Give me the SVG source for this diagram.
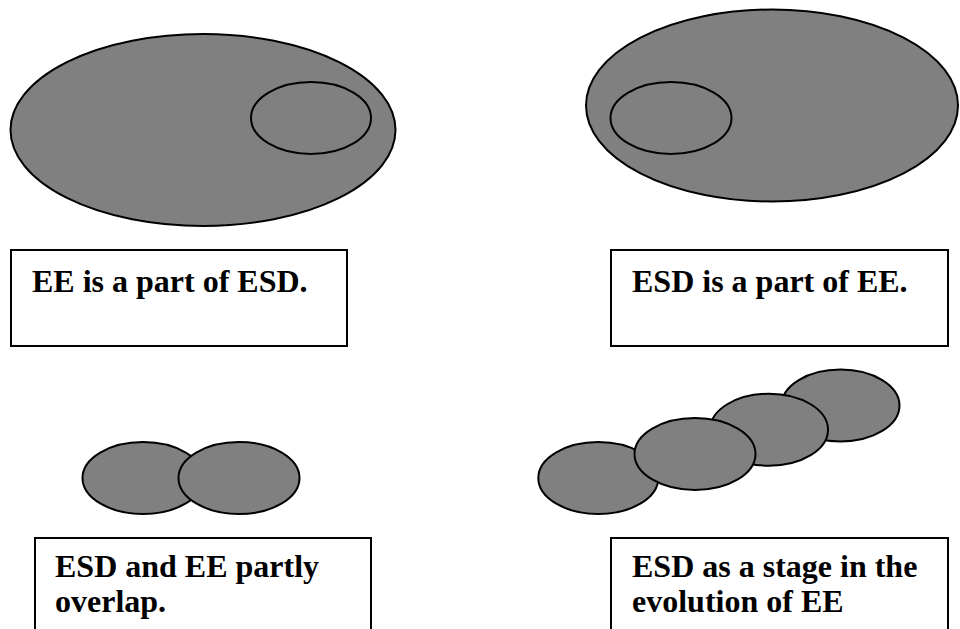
<svg xmlns="http://www.w3.org/2000/svg" width="960" height="629" viewBox="0 0 960 629">
<style>
.e{fill:#808080;stroke:#000;stroke-width:2}
.o{fill:none;stroke:#000;stroke-width:2}
.b{fill:#fff;stroke:#000;stroke-width:2}
.t{font-family:"Liberation Serif","Times New Roman",serif;font-weight:bold;font-size:32px;fill:#000}
</style>
<rect width="960" height="629" fill="#fff"/>
<g id="ee-part-of-esd">
<ellipse class="e" cx="203" cy="130" rx="192.5" ry="96"/>
<ellipse class="o" cx="311" cy="118" rx="60" ry="36"/>
</g>
<g id="esd-part-of-ee">
<ellipse class="e" cx="772" cy="105.5" rx="186" ry="96"/>
<ellipse class="o" cx="671" cy="118" rx="60.5" ry="36"/>
</g>
<g id="label1">
<rect class="b" x="11" y="250" width="336" height="96"/>
<text class="t" x="32" y="292">EE is a part of ESD.</text>
</g>
<g id="label2">
<rect class="b" x="611" y="250" width="337" height="96"/>
<text class="t" x="632" y="292">ESD is a part of EE.</text>
</g>
<g id="overlap">
<ellipse class="e" cx="143" cy="478" rx="60.5" ry="36"/>
<ellipse class="e" cx="239" cy="478" rx="60.5" ry="36"/>
</g>
<g id="evolution">
<ellipse class="e" cx="840.5" cy="405.5" rx="59" ry="36"/>
<ellipse class="e" cx="769" cy="429.7" rx="59" ry="36"/>
<ellipse class="e" cx="598.3" cy="478" rx="60" ry="36"/>
<ellipse class="e" cx="695" cy="454" rx="60.5" ry="36"/>
</g>
<g id="label3">
<rect class="b" x="35" y="538" width="336" height="100"/>
<text class="t" x="55" y="577">ESD and EE partly</text>
<text class="t" x="55" y="612">overlap.</text>
</g>
<g id="label4">
<rect class="b" x="611" y="538" width="337" height="100"/>
<text class="t" x="632" y="577">ESD as a stage in the</text>
<text class="t" x="632" y="612">evolution of EE</text>
</g>
<g id="connectors"/>
</svg>
